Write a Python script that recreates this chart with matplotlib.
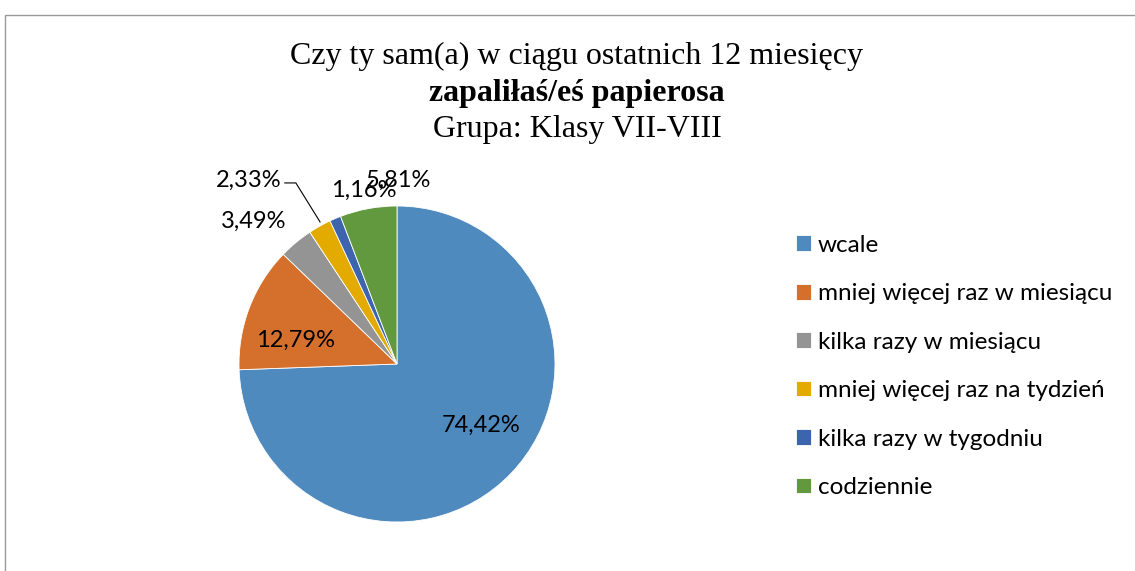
import matplotlib
matplotlib.use('Agg')
import matplotlib.pyplot as plt
from matplotlib.patches import Rectangle

categories = ['wcale', 'mniej więcej raz w miesiącu', 'kilka razy w miesiącu',
              'mniej więcej raz na tydzień', 'kilka razy w tygodniu', 'codziennie']
values = [74.42, 12.79, 3.49, 2.33, 1.16, 5.81]
colors = ['#4F8ABF', '#D4702B', '#949494', '#E3AA00', '#3D65AE', '#62993E']
# label spots (data units, radius = 1)
label_xy = [(0.53, -0.39), (-0.64, 0.15), (-0.91, 0.90), (-0.94, 1.16), (-0.21, 1.10), (0.01, 1.165)]

W, H = 1135, 571
fig = plt.figure(figsize=(W / 100, H / 100), dpi=100)

# chart border (runs off right/bottom edge)
fig.patches.append(Rectangle((4.5 / W, -0.1), 1.2, (H - 14.5) / H + 0.1, transform=fig.transFigure,
                             fill=False, edgecolor='#9A9A9A', linewidth=1))

cx, cy, r = 397, 364, 158
ax = fig.add_axes([(cx - r) / W, (H - cy - r) / H, 2 * r / W, 2 * r / H])
wedges, _ = ax.pie(values, colors=colors, startangle=90, counterclock=False, radius=1,
                   wedgeprops=dict(edgecolor='white', linewidth=0.6))
ax.set_xlim(-1, 1)
ax.set_ylim(-1, 1)
ax.axis('off')

for v, (x, y) in zip(values, label_xy):
    ax.text(x, y, f'{v:.2f}%'.replace('.', ','), ha='center', va='center',
            fontsize=17, family='Lato', color='black', clip_on=False)

# leader line for 2,33%
ax.plot([-0.71, -0.64, -0.487], [1.146, 1.146, 0.899], color='black', lw=0.8, clip_on=False)

tx = 577 / W
fig.text(tx, 1 - 56 / H, 'Czy ty sam(a) w ciągu ostatnich 12 miesięcy', ha='center', va='center',
         fontsize=23, family='Liberation Serif')
fig.text(tx, 1 - 94 / H, 'zapaliłaś/eś papierosa', ha='center', va='center',
         fontsize=23, family='Liberation Serif', fontweight='bold')
fig.text(tx, 1 - 130 / H, 'Grupa: Klasy VII-VIII', ha='center', va='center',
         fontsize=23, family='Liberation Serif')

fig.legend(wedges, categories, loc='upper left', bbox_to_anchor=(786 / W, 1 - 225 / H),
           frameon=False, prop={'family': 'Lato', 'size': 17.5}, handlelength=0.62, handleheight=0.62,
           handletextpad=0.3, labelspacing=1.13, borderaxespad=0)

fig.savefig('out.png', dpi=100)
